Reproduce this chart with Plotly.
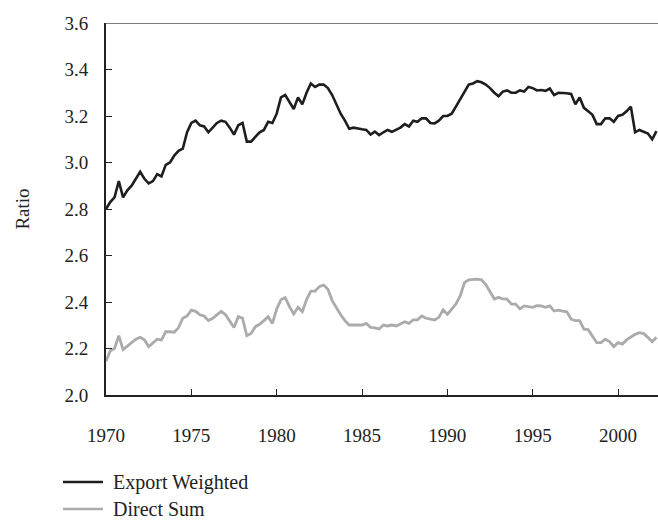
import plotly.graph_objects as go

# Quarterly observations, 1970Q1 .. 2002Q2
start_year = 1970
export_weighted = [
    2.80, 2.83, 2.85, 2.92,
    2.85, 2.88, 2.90, 2.93,
    2.96, 2.93, 2.91, 2.92,
    2.95, 2.94, 2.99, 3.00,
    3.03, 3.05, 3.06, 3.13,
    3.17, 3.18, 3.16, 3.155,
    3.13, 3.15, 3.17, 3.18,
    3.175, 3.15, 3.12, 3.16,
    3.17, 3.09, 3.09, 3.11,
    3.13, 3.14, 3.175, 3.17,
    3.21, 3.28, 3.29, 3.26,
    3.23, 3.28, 3.25, 3.30,
    3.34, 3.325, 3.335, 3.335,
    3.32, 3.29, 3.25, 3.21,
    3.18, 3.145, 3.15, 3.145,
    3.143, 3.14, 3.12, 3.133,
    3.118, 3.13, 3.14, 3.132,
    3.14, 3.15, 3.165, 3.155,
    3.18, 3.175, 3.19, 3.19,
    3.17, 3.168, 3.18, 3.20,
    3.20, 3.21, 3.24, 3.27,
    3.30, 3.335, 3.34, 3.35,
    3.345, 3.335, 3.32, 3.30,
    3.285, 3.305, 3.31, 3.30,
    3.30, 3.31, 3.305, 3.325,
    3.32, 3.31, 3.312, 3.308,
    3.318, 3.29, 3.30, 3.30,
    3.298, 3.295, 3.25, 3.28,
    3.235, 3.22, 3.205, 3.165,
    3.165, 3.19, 3.19, 3.175,
    3.20, 3.205, 3.22, 3.24,
    3.13, 3.14, 3.132, 3.125,
    3.10, 3.135,
]
direct_sum = [
    2.145, 2.19, 2.20, 2.255,
    2.195, 2.21, 2.225, 2.24,
    2.248, 2.237, 2.208, 2.225,
    2.24, 2.237, 2.272, 2.272,
    2.27, 2.29, 2.33, 2.34,
    2.365, 2.36, 2.345, 2.34,
    2.32, 2.33, 2.345, 2.36,
    2.345, 2.315, 2.29, 2.337,
    2.33, 2.255, 2.265, 2.294,
    2.304, 2.32, 2.337, 2.308,
    2.37, 2.41, 2.419, 2.38,
    2.348, 2.377, 2.358, 2.41,
    2.447, 2.447, 2.466, 2.473,
    2.455, 2.406, 2.373, 2.345,
    2.32, 2.301, 2.301, 2.301,
    2.301, 2.308, 2.291, 2.289,
    2.284, 2.301, 2.297, 2.301,
    2.297, 2.305, 2.315, 2.308,
    2.323, 2.323, 2.34, 2.330,
    2.325, 2.323, 2.334, 2.366,
    2.347, 2.37, 2.391, 2.426,
    2.483, 2.495, 2.498, 2.498,
    2.495, 2.475, 2.444, 2.413,
    2.42, 2.413, 2.412, 2.391,
    2.391, 2.37, 2.383, 2.38,
    2.377, 2.384, 2.383, 2.377,
    2.383, 2.361, 2.365, 2.361,
    2.358, 2.326, 2.320, 2.320,
    2.283, 2.281, 2.254, 2.225,
    2.225, 2.240, 2.230, 2.208,
    2.225, 2.219, 2.237, 2.251,
    2.261, 2.268, 2.264, 2.248,
    2.229, 2.248,
]
x_ticks = [1970, 1975, 1980, 1985, 1990, 1995, 2000]
y_ticks = [2.0, 2.2, 2.4, 2.6, 2.8, 3.0, 3.2, 3.4, 3.6]
series_names = ["Export Weighted", "Direct Sum"]

dates = [start_year + i / 4 for i in range(len(export_weighted))]

FONT = "Liberation Serif"
BLACK = "#1e1e1e"
GREY = "#ababab"

fig = go.Figure()
fig.add_trace(go.Scatter(x=dates, y=export_weighted, mode="lines", name=series_names[0],
                         line=dict(color=BLACK, width=2.6), showlegend=False))
fig.add_trace(go.Scatter(x=dates, y=direct_sum, mode="lines", name=series_names[1],
                         line=dict(color=GREY, width=2.8), showlegend=False))

fig.update_layout(
    width=658, height=521,
    margin=dict(l=106, r=0, t=23, b=126),
    paper_bgcolor="white", plot_bgcolor="white",
    font=dict(family=FONT, size=19, color="#222"),
    xaxis=dict(range=[1970, 2002.34], tickvals=x_ticks, ticktext=[str(v) for v in x_ticks],
               ticks="inside", ticklen=6, tickcolor="#222", tickwidth=1.2,
               showline=True, linecolor="#222", linewidth=1.6, showgrid=False, zeroline=False,
               ticklabelstandoff=22, tickfont=dict(family=FONT, size=19, color="#222")),
    yaxis=dict(range=[2.0, 3.6], tickvals=y_ticks, ticktext=[f"{v:.1f}" for v in y_ticks],
               ticks="inside", ticklen=6, tickcolor="#222", tickwidth=1.2,
               showline=True, linecolor="#222", linewidth=2, showgrid=False, zeroline=False,
               ticklabelstandoff=12, tickfont=dict(family=FONT, size=19, color="#222"),
               title=dict(text="Ratio", font=dict(family=FONT, size=19, color="#222"), standoff=30)),
    showlegend=False,
)

# top frame line
fig.add_shape(type="line", xref="paper", yref="y", x0=0, x1=1, y0=3.6, y1=3.6,
              line=dict(color="#555", width=1.5))

# legend drawn below the plot
legend_items = [(series_names[0], BLACK, 482), (series_names[1], GREY, 509)]
for name, color, ypx in legend_items:
    yp = (395 - ypx) / 372.0
    fig.add_shape(type="line", xref="paper", yref="paper",
                  x0=(63 - 106) / 552.0, x1=(103 - 106) / 552.0, y0=yp, y1=yp,
                  line=dict(color=color, width=2.6))
    fig.add_annotation(text=name, xref="paper", yref="paper", x=(111 - 106) / 552.0, y=yp,
                       xanchor="left", yanchor="middle", showarrow=False,
                       font=dict(family=FONT, size=20, color="#222"))

fig.write_html("out.html", config={"displayModeBar": False},
               post_script="document.body.style.margin='0';document.body.style.overflow='hidden';")
